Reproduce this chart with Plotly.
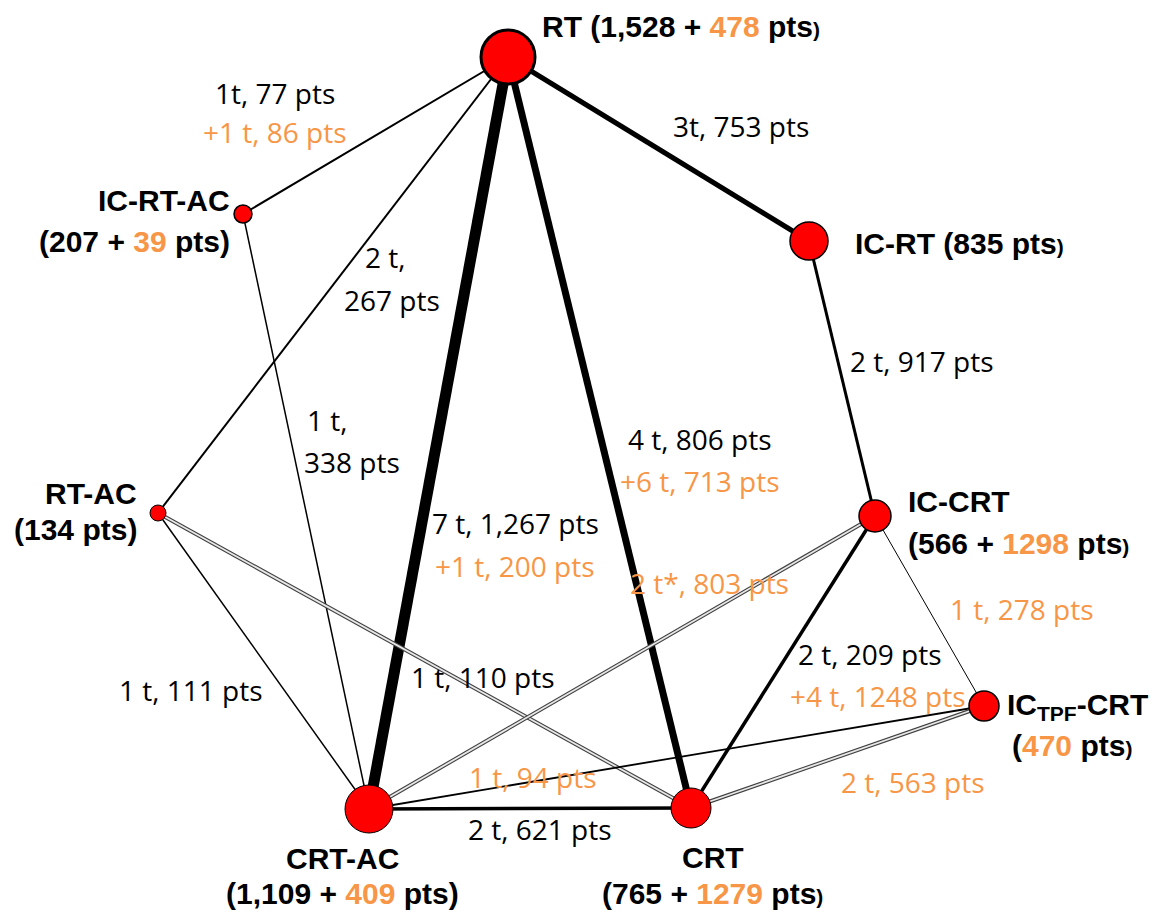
import plotly.graph_objects as go

ORANGE = "#F79646"
BLACK = "#000000"

# ---- data ----
nodes = ["RT", "IC-RT-AC", "IC-RT", "RT-AC", "IC-CRT", "ICTPF-CRT", "CRT-AC", "CRT"]
node_x = [508, 243, 809, 158, 875, 984, 369, 691]
node_y = [57, 214, 241, 513, 516, 706, 809, 808]
node_size = [54, 18, 38, 16, 32, 30, 48, 40]
node_line = [3, 1.5, 1.5, 1, 1.5, 1.5, 1, 1]

edge_from = ["RT", "RT", "RT", "RT", "RT", "IC-RT", "IC-RT-AC", "RT-AC", "RT-AC",
             "IC-CRT", "IC-CRT", "IC-CRT", "ICTPF-CRT", "ICTPF-CRT", "CRT-AC"]
edge_to = ["IC-RT-AC", "IC-RT", "RT-AC", "CRT-AC", "CRT", "IC-CRT", "CRT-AC", "CRT-AC", "CRT",
           "CRT-AC", "CRT", "ICTPF-CRT", "CRT-AC", "CRT", "CRT"]
edge_width = [2, 5, 2, 11, 7, 3, 1.5, 1.5, 4, 4, 3.5, 1, 1.8, 4, 3.5]
edge_double = [False, False, False, False, False, False, False, False, True,
               True, False, False, False, True, False]

edge_labels = [
    ("1t, 77 pts", BLACK), ("+1 t, 86 pts", ORANGE),
    ("3t, 753 pts", BLACK),
    ("2 t,", BLACK), ("267 pts", BLACK),
    ("7 t, 1,267 pts", BLACK), ("+1 t, 200 pts", ORANGE),
    ("4 t, 806 pts", BLACK), ("+6 t, 713 pts", ORANGE),
    ("2 t, 917 pts", BLACK),
    ("1 t,", BLACK), ("338 pts", BLACK),
    ("1 t, 111 pts", BLACK),
    ("1 t, 110 pts", BLACK),
    ("2 t*, 803 pts", ORANGE),
    ("2 t, 209 pts", BLACK), ("+4 t, 1248 pts", ORANGE),
    ("1 t, 278 pts", ORANGE),
    ("1 t, 94 pts", ORANGE),
    ("2 t, 563 pts", ORANGE),
    ("2 t, 621 pts", BLACK),
]
edge_label_x = [275, 275, 741, 385, 392, 515, 515, 700, 700, 922, 327, 352, 191, 483, 709, 870, 878, 1022, 533, 913, 540]
edge_label_y = [93, 132, 126, 257, 300, 523, 566, 439, 481, 361, 420, 462, 690, 677, 583, 654, 696, 609, 777, 782, 829]

S = '<span style="font-size:21px">)</span>'
O = lambda t: f'<span style="color:{ORANGE}">{t}</span>'
node_labels = [
    (f"RT (1,528 + {O('478')} pts{S}", 540, 26, "left"),
    ("IC-RT-AC", 232, 200, "right"),
    (f"(207 + {O('39')} pts)", 232, 241, "right"),
    (f"IC-RT (835 pts{S}", 853, 243, "left"),
    ("RT-AC", 139, 493, "right"),
    ("(134 pts)", 139, 529, "right"),
    ("IC-CRT", 906, 501, "left"),
    (f"(566 + {O('1298')} pts{S}", 906, 543, "left"),
    ('IC<sub>TPF</sub>-CRT', 1005, 706, "left"),
    (f"({O('470')} pts{S}", 1010, 745, "left"),
    ("CRT-AC", 342, 858, "center"),
    (f"(1,109 + {O('409')} pts)", 342, 893, "center"),
    ("CRT", 713, 857, "center"),
    (f"(765 + {O('1279')} pts{S}", 712, 893, "center"),
]

# ---- figure ----
fig = go.Figure()
idx = {n: i for i, n in enumerate(nodes)}
for a, b, w, dbl in zip(edge_from, edge_to, edge_width, edge_double):
    xs = [node_x[idx[a]], node_x[idx[b]]]
    ys = [node_y[idx[a]], node_y[idx[b]]]
    if dbl:
        fig.add_trace(go.Scatter(x=xs, y=ys, mode="lines", line=dict(color="#404040", width=w),
                                 hoverinfo="skip", showlegend=False))
        fig.add_trace(go.Scatter(x=xs, y=ys, mode="lines", line=dict(color="#e8e8e8", width=w - 2.2),
                                 hoverinfo="skip", showlegend=False))
    else:
        fig.add_trace(go.Scatter(x=xs, y=ys, mode="lines", line=dict(color="black", width=w),
                                 hoverinfo="skip", showlegend=False))

fig.add_trace(go.Scatter(x=node_x, y=node_y, mode="markers", text=nodes, hoverinfo="text",
                         marker=dict(size=node_size, color="#FF0000", opacity=1,
                                     line=dict(color="black", width=node_line)),
                         showlegend=False))

for (t, c), x, y in zip(edge_labels, edge_label_x, edge_label_y):
    fig.add_annotation(x=x, y=y, text=t, showarrow=False, xanchor="center", yanchor="middle",
                       font=dict(family="Open Sans, sans-serif", size=28, color=c))

for t, x, y, anc in node_labels:
    fig.add_annotation(x=x, y=y, text=t, showarrow=False, xanchor=anc, yanchor="middle",
                       align=anc if anc != "center" else "center",
                       font=dict(family="Liberation Sans, Arial, sans-serif", size=30, color="black",
                                 weight="bold"))

fig.update_layout(
    width=1153, height=912, margin=dict(l=0, r=0, t=0, b=0),
    plot_bgcolor="white", paper_bgcolor="white",
    xaxis=dict(range=[0, 1153], visible=False, fixedrange=True),
    yaxis=dict(range=[912, 0], visible=False, fixedrange=True),
)
fig.write_html("out.html",
               post_script="document.body.style.margin='0';document.body.style.overflow='hidden';",
               config={"displayModeBar": False})
